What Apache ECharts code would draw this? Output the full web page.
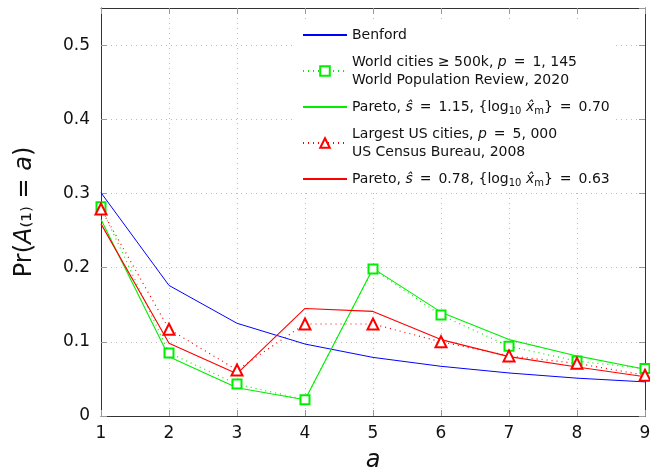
<!DOCTYPE html>
<html>
<head>
<meta charset="utf-8">
<script src="https://cdn.jsdelivr.net/npm/echarts@6/dist/echarts.min.js"></script>
<style>
  html, body { margin: 0; padding: 0; background: #fff; }
  #chart { width: 650px; height: 474px; }
</style>
</head>
<body>
<div id="chart"></div>
<script>
// leading digit a = 1..9
const digits = [1, 2, 3, 4, 5, 6, 7, 8, 9];
const benford = [0.301, 0.176, 0.125, 0.097, 0.079, 0.067, 0.058, 0.051, 0.046];
const worldCities = [0.282, 0.085, 0.043, 0.022, 0.198, 0.136, 0.094, 0.074, 0.064];
const paretoWorld = [0.265, 0.080, 0.038, 0.022, 0.199, 0.140, 0.103, 0.081, 0.063];
const usCities = [0.279, 0.117, 0.062, 0.124, 0.124, 0.100, 0.081, 0.071, 0.055];
const paretoUS = [0.259, 0.098, 0.057, 0.145, 0.141, 0.103, 0.080, 0.066, 0.053];

const eq = '\u2002=\u2002';
const legendText = {
    'Benford': 'Benford',
    'World': 'World cities ≥ 500k, {i|p}' + eq + '1, 145\nWorld Population Review, 2020',
    'ParetoW': 'Pareto, {i|ŝ}' + eq + '1.15, {log{sub|10} {i|x̂}{sub|m}}' + eq + '0.70',
    'US': 'Largest US cities, {i|p}' + eq + '5, 000\nUS Census Bureau, 2008',
    'ParetoUS': 'Pareto, {i|ŝ}' + eq + '0.78, {log{sub|10} {i|x̂}{sub|m}}' + eq + '0.63'
};

function pairs(vals) {
    return digits.map((d, i) => [d, vals[i]]);
}

const font = 'DejaVu Sans';
const chart = echarts.init(document.getElementById('chart'));

const tick = { show: true, inside: true, length: 6, lineStyle: { color: '#999' } };
const frame = { show: true, onZero: false, lineStyle: { color: '#333', width: 1 } };

chart.setOption({
    animation: false,
    textStyle: { fontFamily: font },
    grid: { left: 101, right: 5, top: 8, bottom: 58, outerBoundsMode: 'none' },
    legend: {
        orient: 'vertical',
        left: 296,
        top: 22,
        padding: [4, 6],
        itemGap: 9,
        itemWidth: 44,
        itemHeight: 12,
        backgroundColor: '#fff',
        data: [
            { name: 'Benford', itemStyle: { opacity: 0 } },
            'World',
            { name: 'ParetoW', itemStyle: { opacity: 0 } },
            'US',
            { name: 'ParetoUS', itemStyle: { opacity: 0 } }
        ],
        formatter: name => legendText[name],
        textStyle: {
            fontFamily: font, fontSize: 14, color: '#111', lineHeight: 18,
            rich: {
                i: { fontStyle: 'italic', fontSize: 14, fontFamily: font, color: '#111' },
                sub: { fontSize: 10, fontFamily: font, color: '#111', lineHeight: 10, verticalAlign: 'bottom' }
            }
        }
    },
    xAxis: [{
        type: 'value', min: 1, max: 9, interval: 1,
        name: 'a', nameLocation: 'middle', nameGap: 33,
        nameTextStyle: { fontSize: 24, fontStyle: 'italic', color: '#111', fontFamily: font },
        axisLine: frame, axisTick: tick,
        axisLabel: { fontSize: 17, color: '#111', margin: 9 },
        splitLine: { show: true, lineStyle: { type: [1, 4], color: '#bbb' } }
    }, {
        type: 'value', min: 1, max: 9, interval: 1, position: 'top',
        axisLine: frame, axisTick: tick, axisLabel: { show: false }, splitLine: { show: false }
    }],
    yAxis: [{
        type: 'value', min: 0, max: 0.55, interval: 0.1,
        name: 'Pr({i|A}₍₁₎ = {i|a})', nameLocation: 'middle', nameGap: 64,
        nameTextStyle: {
            fontSize: 24, color: '#111', fontFamily: font,
            rich: { i: { fontSize: 24, fontStyle: 'italic', fontFamily: font, color: '#111' } }
        },
        axisLine: frame, axisTick: tick,
        axisLabel: { fontSize: 17, color: '#111', margin: 11, showMaxLabel: false },
        splitLine: { show: true, lineStyle: { type: [1, 4], color: '#bbb' } }
    }, {
        type: 'value', min: 0, max: 0.55, interval: 0.1, position: 'right',
        axisLine: frame, axisTick: tick, axisLabel: { show: false }, splitLine: { show: false }
    }],
    series: [{
        name: 'Benford', type: 'line', data: pairs(benford),
        symbol: 'none', color: '#0000ff',
        lineStyle: { width: 1, color: '#0000ff' }
    }, {
        name: 'World', type: 'line', data: pairs(worldCities),
        symbol: 'emptyRect', symbolSize: 9, color: '#00ee00',
        itemStyle: { color: '#00ee00', borderWidth: 1 },
        lineStyle: { width: 1.2, type: [1, 4], color: '#00ee00' }
    }, {
        name: 'ParetoW', type: 'line', data: pairs(paretoWorld),
        symbol: 'none', color: '#00ee00',
        lineStyle: { width: 1.1, color: '#00ee00' }
    }, {
        name: 'US', type: 'line', data: pairs(usCities),
        symbol: 'emptyTriangle', symbolSize: 11, color: '#ff0000',
        itemStyle: { color: '#ff0000', borderWidth: 1 },
        lineStyle: { width: 1.2, type: [1, 4], color: '#ff0000' }
    }, {
        name: 'ParetoUS', type: 'line', data: pairs(paretoUS),
        symbol: 'none', color: '#ff0000',
        lineStyle: { width: 1.1, color: '#ff0000' }
    }]
});
</script>
</body>
</html>
